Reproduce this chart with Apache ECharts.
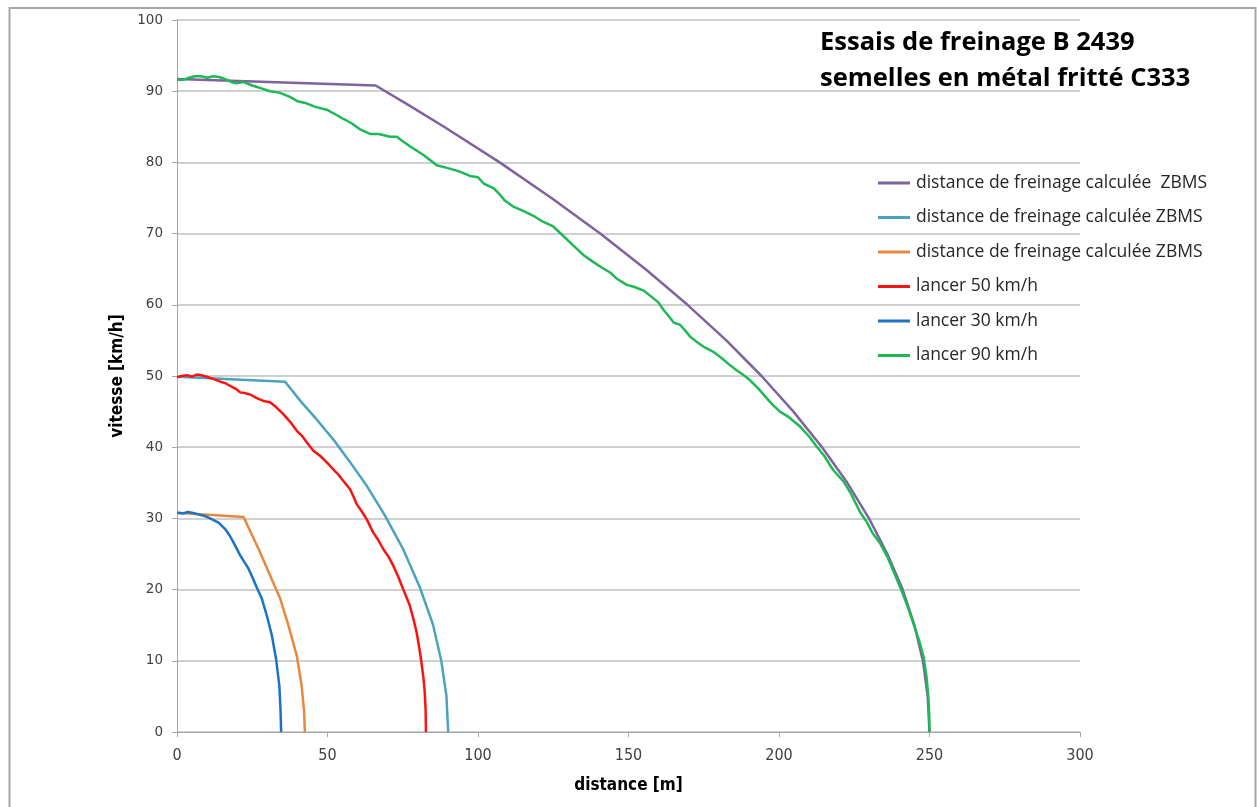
<!DOCTYPE html>
<html><head><meta charset="utf-8">
<script src="https://cdn.jsdelivr.net/npm/echarts@6/dist/echarts.min.js"></script>
<style>html,body{margin:0;padding:0;background:#fff}#c{width:1257px;height:807px}</style>
</head><body><div id="c"></div>
<script>
const titleLines = ['Essais de freinage B 2439', 'semelles en métal fritté C333'];
const xTicks = [0, 50, 100, 150, 200, 250, 300];
const yTicks = [0, 10, 20, 30, 40, 50, 60, 70, 80, 90, 100];
const seriesNames = ['distance de freinage calculée  ZBMS', 'distance de freinage calculée ZBMS', 'distance de freinage calculée ZBMS ', 'lancer 50 km/h', 'lancer 30 km/h', 'lancer 90 km/h'];
const legendLabels = ['distance de freinage calculée  ZBMS', 'distance de freinage calculée ZBMS', 'distance de freinage calculée ZBMS', 'lancer 50 km/h', 'lancer 30 km/h', 'lancer 90 km/h'];
const colors = ['#7f63a1', '#4aa3bd', '#e8873e', '#ff1010', '#1a73c4', '#1db954'];

// [distance m, vitesse km/h]
const zbms90 = [[0,91.7],[66,90.8],[77.1,88],[88.7,85],[107.2,80],[124.4,75],[140.6,70],[155.7,65],[169.6,60],[182.5,55],[194.2,50],[204.8,45],[214.3,40],[222.7,35],[229.9,30],[236,25],[241.1,20],[245,15],[247.8,10],[249.4,5],[250,0]];
const zbms50 = [[0,49.9],[35.9,49.2],[41.4,46.3],[46.4,43.9],[51.9,41.1],[57.5,37.9],[63,34.6],[69.1,30.4],[75.1,25.7],[80.7,20.3],[85.1,15],[87.8,10],[89.5,5.1],[90.1,0]];
const zbms30 = [[0,30.8],[22.1,30.2],[27.1,25.7],[30.9,22],[34.3,18.7],[37,15],[39.8,10.7],[41.4,6.5],[42.2,3],[42.5,0]];
const lancer50 = [[0,49.8],[1.5,50],[3.3,50.1],[5,49.9],[6.6,50.2],[8,50.1],[9.9,49.9],[12,49.6],[14.4,49.2],[16,49],[17.7,48.6],[19.5,48.2],[21,47.7],[22.5,47.6],[24.3,47.4],[26.5,46.9],[28.7,46.5],[30.9,46.3],[33,45.6],[35.4,44.6],[37.5,43.6],[39.8,42.3],[41.5,41.6],[43.1,40.7],[45.3,39.5],[47.5,38.8],[49.7,37.9],[51.9,36.9],[53.5,36.2],[55.2,35.3],[57.5,34.1],[58.7,33],[59.7,32],[61.5,30.9],[63,29.9],[65.2,28],[66.8,27],[68.5,25.7],[70.3,24.6],[71.8,23.4],[73.5,21.8],[75.1,20.1],[77.3,17.8],[78.6,15.8],[79.6,14],[80.5,11.8],[81.2,9.8],[81.9,7.5],[82.3,5.6],[82.6,3],[82.7,0]];
const lancer30 = [[0,30.8],[2.2,30.7],[3.5,30.9],[5,30.8],[7.7,30.5],[9.5,30.3],[11,30],[13.8,29.4],[16,28.5],[17.5,27.6],[18.8,26.6],[21,24.8],[23.8,22.9],[25.3,21.5],[26.5,20.3],[28.2,18.7],[29.8,16.4],[31.5,13.6],[32.9,10.3],[34,6.5],[34.4,3],[34.6,0]];
const lancer90 = [[0,91.6],[2,91.6],[4,91.9],[6,92.1],[8,92.1],[10,91.9],[12,92.1],[14,92],[16,91.7],[18,91.3],[19.8,91.1],[22,91.3],[25,90.8],[28,90.4],[30.9,90],[34,89.8],[37.5,89.2],[40,88.6],[43,88.3],[46,87.8],[49.7,87.4],[52,86.9],[55.3,86.1],[58,85.5],[61,84.6],[64.1,84],[67,84],[70.8,83.6],[73,83.6],[75.2,82.9],[78,82.1],[82,81],[86.3,79.6],[90,79.2],[94,78.7],[97.3,78.1],[100,77.9],[102,77],[105.1,76.4],[107,75.6],[109,74.6],[111.7,73.8],[115,73.2],[118.4,72.5],[121,71.8],[125,71],[128,69.8],[131,68.6],[135,67],[138,66.1],[141.6,65.1],[144,64.5],[146,63.7],[149.4,62.8],[152,62.5],[155,62],[158.3,60.9],[160,60.3],[161.6,59.3],[163,58.6],[165,57.5],[167.1,57.2],[169,56.3],[170.5,55.5],[172.6,54.8],[175,54.1],[178.2,53.4],[181,52.5],[183.5,51.6],[185.9,50.8],[188,50.2],[190.4,49.4],[193,48.3],[195.9,46.9],[198,45.9],[200.3,45],[203,44.3],[207,42.9],[210,41.5],[212.5,40.1],[215,38.8],[218,36.8],[221.4,35.2],[224,33.4],[226.9,30.9],[229,29.6],[231,28],[233.6,26.5],[236,24.6],[238,22.6],[240.2,20.4],[242.5,17.9],[244.6,15.3],[246.5,12.9],[248,10.6],[249,7.8],[249.6,5],[249.9,2.5],[250,0]];

const dataSets = [zbms90, zbms50, zbms30, lancer50, lancer30, lancer90];

const chart = echarts.init(document.getElementById('c'), null, {renderer: 'canvas'});
const series = dataSets.map((d, i) => ({
  name: seriesNames[i],
  type: 'line',
  data: d,
  showSymbol: false,
  symbol: 'none',
  smooth: false,
  lineStyle: {color: colors[i], width: 2.5},
  itemStyle: {color: colors[i]},
  z: i === 0 ? 2 : 3,
  animation: false
}));

chart.setOption({
  animation: false,
  backgroundColor: '#fff',
  grid: {left: 177, right: 177, top: 20, bottom: 75, containLabel: false},
  graphic: [
    {type: 'rect', shape: {x: 9.5, y: 8, width: 1246, height: 820}, style: {fill: 'none', stroke: '#a6a6a6', lineWidth: 2}, silent: true, z: -1},
    {type: 'text', left: 820, top: 25, style: {text: titleLines.join('\n'), font: 'bold 25.5px "Open Sans", sans-serif', fill: '#000', lineHeight: 36}}
  ],
  legend: {
    orient: 'vertical',
    left: 878,
    top: 174,
    padding: 0,
    itemWidth: 32,
    itemHeight: 3,
    itemGap: 16.5,
    icon: 'rect',
    data: seriesNames.map((n, i) => ({name: n, itemStyle: {color: colors[i]}})),
    formatter: function (name) { return legendLabels[seriesNames.indexOf(name)]; },
    textStyle: {fontFamily: '"Open Sans", sans-serif', fontSize: 17.5, color: '#262626', lineHeight: 17.5, padding: [0, 0, 0, 1]}
  },
  xAxis: {
    type: 'value', min: 0, max: 300, interval: 50,
    name: 'distance [m]', nameLocation: 'middle', nameGap: 45,
    nameTextStyle: {fontFamily: '"Liberation Sans Narrow", "DejaVu Sans Condensed", sans-serif', fontWeight: 'bold', fontSize: 17, color: '#000'},
    axisLine: {show: true, lineStyle: {color: '#a6a6a6', width: 1}},
    axisTick: {show: true, length: 5, lineStyle: {color: '#a6a6a6'}},
    axisLabel: {fontFamily: '"Liberation Sans Narrow", "DejaVu Sans Condensed", sans-serif', fontSize: 16, color: '#404040', margin: 16,
      formatter: v => xTicks.includes(v) ? String(v) : ''},
    splitLine: {show: false}
  },
  yAxis: {
    type: 'value', min: 0, max: 100, interval: 10,
    name: 'vitesse [km/h]', nameLocation: 'middle', nameGap: 48, nameRotate: 90,
    nameTextStyle: {fontFamily: '"Liberation Sans Narrow", "DejaVu Sans Condensed", sans-serif', fontWeight: 'bold', fontSize: 17, color: '#000'},
    axisLine: {show: true, lineStyle: {color: '#a6a6a6', width: 1}},
    axisTick: {show: true, length: 5, lineStyle: {color: '#a6a6a6'}},
    axisLabel: {fontFamily: '"DejaVu Sans", sans-serif', fontSize: 13.5, color: '#404040', margin: 14,
      formatter: v => yTicks.includes(v) ? String(v) : ''},
    splitLine: {show: true, lineStyle: {color: '#c0c0c0', width: 1.5}}
  },
  series: series
});
</script></body></html>
